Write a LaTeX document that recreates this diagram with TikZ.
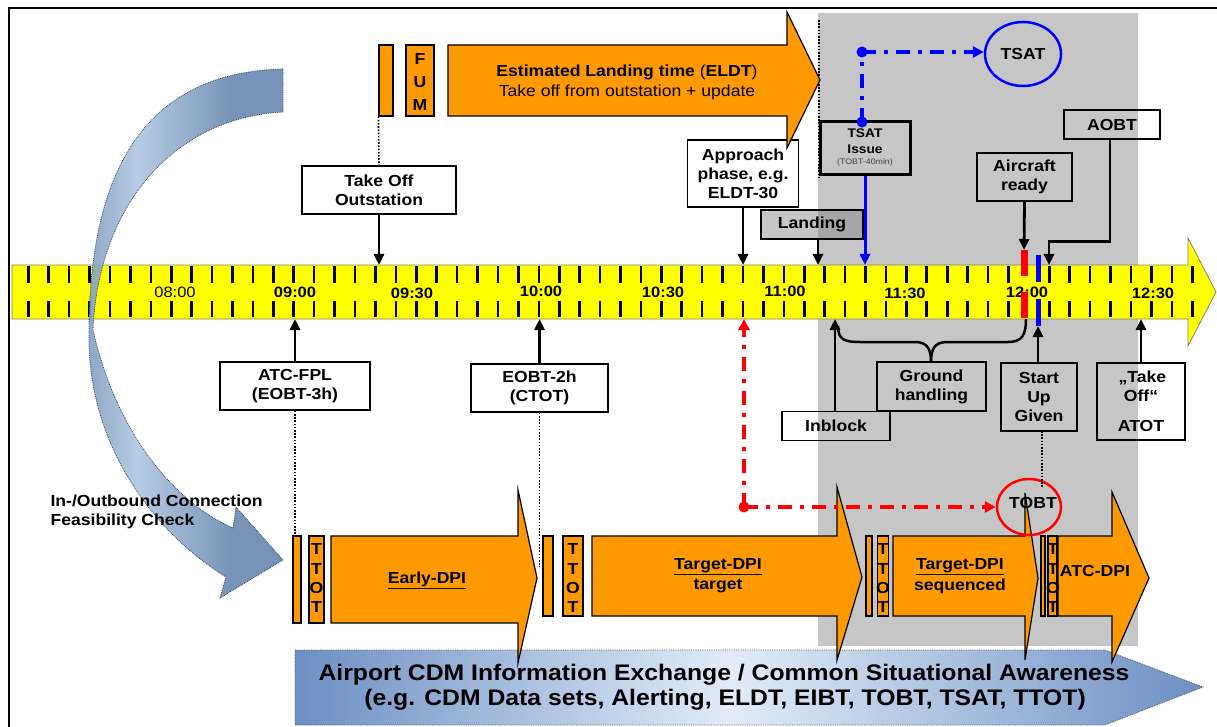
\documentclass[tikz,border=0pt]{standalone}
\usepackage{fontspec}
\setmainfont{Liberation Sans}[FakeStretch=1.1]
\usetikzlibrary{arrows.meta,shapes.geometric}
\definecolor{bggray}{RGB}{198,198,198}
\definecolor{orng}{RGB}{255,153,0}
\definecolor{ylw}{RGB}{255,255,0}
\definecolor{steelL}{RGB}{175,198,225}
\definecolor{steelM}{RGB}{128,155,192}
\definecolor{steelD}{RGB}{104,136,176}
\definecolor{blD}{RGB}{108,143,196}
\definecolor{blL}{RGB}{226,236,247}
\definecolor{bandedge}{RGB}{128,128,128}
\definecolor{lgray}{RGB}{131,131,131}
\pgfdeclarehorizontalshading{cdmshade}{100bp}{color(0bp)=(blD); color(25bp)=(blD); color(49bp)=(blL); color(75bp)=(blD); color(100bp)=(blD)}
\pgfdeclarehorizontalshading{curvshade}{100bp}{color(0bp)=(steelM); color(25bp)=(steelM); color(38bp)=(steelL); color(62bp)=(steelD); color(100bp)=(steelD)}
\begin{document}
\begin{tikzpicture}[x=1pt,y=-1pt,
  every node/.style={font=\fontsize{16}{19}\selectfont\bfseries},
  box/.style={draw=black, line width=1.5pt, inner sep=0pt, align=center},
  conn/.style={line width=2.8pt, -{Triangle[length=11pt,width=10pt]}},
  blk/.style={draw=black, line width=1.2pt, fill=orng},
  tick/.style={line width=2.6pt},
  lbl/.style={font=\fontsize{15}{18}\selectfont\bfseries},
  dd/.style={line width=3.5pt, dash pattern=on 14pt off 8pt on 4pt off 8pt},
  dotl/.style={line width=1.6pt, dash pattern=on 1.6pt off 1.6pt}]
\useasboundingbox (0,0) rectangle (1217,727);
% grey area
\fill[bggray] (818,13) rectangle (1138,646);
% frame
\draw[line width=2pt] (9.2,727) -- (9.2,8.3) -- (1217,8.3);
\coordinate (dtop) at (819,20);
\coordinate (dbot) at (819,180);
\draw[dotl] (dtop) -- (dbot);
% bottom information arrow
\path[shading=cdmshade, draw=gray!70!black, densely dotted, line width=0.8pt]
  (295,650) -- (1105,650) -- (1203,687) -- (1105,725) -- (295,725) -- cycle;
\node[font=\fontsize{22.5}{26}\selectfont\bfseries] (cdm1) at (724,675) {Airport CDM Information Exchange / Common Situational Awareness};
\node[font=\fontsize{22.5}{26}\selectfont\bfseries] (cdm2) at (725,700) {(e.g. CDM Data sets, Alerting, ELDT, EIBT, TOBT, TSAT, TTOT)};
% DPI arrows
\filldraw[blk] (331,536) -- (518,536) -- (518,490) -- (537,578) -- (518,663) -- (518,623) -- (331,623) -- cycle;
\filldraw[blk] (592,536) -- (837,536) -- (837,487) -- (862,577) -- (837,660) -- (837,616) -- (592,616) -- cycle;
\filldraw[blk] (893,536) -- (1025,536) -- (1025,493) -- (1038,578) -- (1025,660) -- (1025,616) -- (893,616) -- cycle;
\filldraw[blk] (1058,536) -- (1112,536) -- (1112,492) -- (1149,578) -- (1112,662) -- (1112,616) -- (1058,616) -- cycle;
\node (early) at (427,580) {\underline{Early-DPI}};
\node (tgt1) at (718,567) {\underline{Target-DPI}};
\node (tgt2) at (718,586) {target};
\node (seq1) at (960,567) {\underline{Target-DPI}};
\node (seq2) at (960,586) {sequenced};
\node (atcdpi) at (1095,571) {ATC-DPI};
% TTOT bars
\node[blk, inner sep=0pt, minimum width=8pt, minimum height=87pt] (bar1) at (297,579.5) {};
\node[blk, inner sep=0pt, minimum width=15pt, minimum height=87pt] (tt1) at (316.5,579.5) {};
\node[blk, inner sep=0pt, minimum width=10pt, minimum height=80pt] (bar2) at (548,576) {};
\node[blk, inner sep=0pt, minimum width=20pt, minimum height=80pt] (tt2) at (573,576) {};
\node[blk, inner sep=0pt, minimum width=6pt, minimum height=80pt] (bar3) at (869,576) {};
\node[blk, inner sep=0pt, minimum width=11pt, minimum height=80pt] (tt3) at (883,576) {};
\node[blk, inner sep=0pt, minimum width=4pt, minimum height=80pt] (bar4) at (1043,576) {};
\node[blk, inner sep=0pt, minimum width=9pt, minimum height=80pt] (tt4) at (1052.5,576) {};
\foreach \xx in {316.5,573,883,1053}{
  \foreach \yy/\ch in {549/T,568.5/T,588/O,607/T}{
    \node[inner sep=0pt] at (\xx,\yy) {\ch};
  }
}
% top elements
\node[box, fill=white, minimum width=111pt, minimum height=67pt] (approach) at (743,173.5) {Approach\\phase, e.g.\\ELDT-30};
\filldraw[blk] (448,45) -- (787,45) -- (787,12) -- (820,80) -- (787,148) -- (787,116) -- (448,116) -- cycle;
\node (eldt1) at (627,72) {Estimated Landing time {\mdseries(}ELDT{\mdseries)}};
\node (eldt2) at (627,92) {\mdseries Take off from outstation + update};
\node[blk, inner sep=0pt, minimum width=14pt, minimum height=71pt] (sbar) at (386,80.5) {};
\node[blk, inner sep=0pt, minimum width=28pt, minimum height=71pt] (fum) at (420,80.5) {};
\node at (420,59) {F};
\node at (420,82) {U};
\node at (420,105) {M};
\node[box, fill=white, minimum width=154pt, minimum height=48pt] (takeoff) at (379,190) {Take Off\\Outstation};
\node[box, fill=lgray, fill opacity=0.47, text opacity=1, minimum width=102pt, minimum height=29pt] (landing) at (812,224.5) {Landing};
\node[box, line width=3pt, fill=bggray, minimum width=90pt, minimum height=53pt] (tsatissue) at (865,148) {};
\node[font=\fontsize{12.5}{15}\selectfont\bfseries] at (865,133) {TSAT};
\node[font=\fontsize{12.5}{15}\selectfont\bfseries] at (865,149) {Issue};
\node[font=\fontsize{8}{9}\selectfont, text=black!75] at (865,162) {(TOBT-40min)};
\node[draw=blue, line width=2.5pt, ellipse, minimum width=76pt, minimum height=64pt, inner sep=0pt] (tsat) at (1023,54) {TSAT};
\node[box, minimum width=95pt, minimum height=48pt] (aircraft) at (1024.5,177) {Aircraft\\ready};
\node[box, minimum width=96pt, minimum height=29pt] (aobt) at (1112,124.5) {AOBT};
% lower boxes
\node[box, fill=white, minimum width=150pt, minimum height=48pt] (atcfpl) at (295,386) {ATC-FPL\\(EOBT-3h)};
\node[box, fill=white, minimum width=137pt, minimum height=48pt] (eobt2h) at (539.5,388) {EOBT-2h\\(CTOT)};
\node[box, minimum width=108pt, minimum height=29pt] (inblock) at (836,426) {Inblock};
\node[box, minimum width=109pt, minimum height=49pt] (ground) at (931.5,386.5) {Ground\\handling};
\node[box, minimum width=76pt, minimum height=68pt] (startup) at (1039,397) {Start\\Up\\Given};
\node[box, minimum width=88pt, minimum height=77pt] (atot) at (1141,401.5) {\,„Take\\Off“\\[11pt]ATOT};
% timeline band
\filldraw[fill=ylw, draw=bandedge, line width=0.8pt] (12,265) -- (1188,265) -- (1188,238) -- (1216,292) -- (1188,346) -- (1188,319) -- (12,319) -- cycle;
\foreach \i in {0,...,57}{
  \pgfmathsetmacro\xx{28.3+\i*20.42}
  \ifnum\i=49 \else
    \draw[tick] (\xx,266) -- (\xx,283) (\xx,301) -- (\xx,317);
  \fi
}
\node[lbl, font=\fontsize{15}{18}\selectfont\mdseries] at (175,292) {08:00};
\node[lbl] at (295,292) {09:00};
\node[lbl] at (412,293) {09:30};
\node[lbl] at (541,291) {10:00};
\node[lbl] at (663,292) {10:30};
\node[lbl] at (785,291) {11:00};
\node[lbl] at (905,293) {11:30};
\node[lbl] at (1027,292) {12:00};
\node[lbl] at (1153,293) {12:30};
% red / blue markers
\fill[red] (1021,250) rectangle (1028,276);
\fill[red] (1021,292) rectangle (1028,318);
\fill[blue] (1035.5,255) rectangle (1041,282);
\fill[blue] (1035.5,299) rectangle (1041,326);
\coordinate (redtop) at (1024,250);
\coordinate (bluebot) at (1038,326);
\coordinate (bandT) at (0,265);
\coordinate (bandB) at (0,319);
% curved arrow
\path[shading=curvshade, fill opacity=0.9, draw=steelD!50!black, densely dotted, line width=0.8pt]
  (283,69) .. controls (160,72) and (90,150) .. (89,330)
  .. controls (86,440) and (150,530) .. (226,577)
  -- (220,598) -- (283,560) -- (236,507) -- (233,528)
  .. controls (180,505) and (118,440) .. (93,330)
  .. controls (98,210) and (170,118) .. (283,112) -- cycle;
\node[anchor=west, align=left] (feas) at (47,512) {In-/Outbound Connection\\Feasibility Check};
% connectors
\draw[conn] (takeoff.south) -- (takeoff.south |- bandT);
\draw[dotl] (sbar.south west) -- (takeoff.north);
\draw[conn] (approach.south) -- (approach.south |- bandT);
\coordinate (landA) at (818,265);
\draw[conn] (landA |- landing.south) -- (landA);
\draw[conn, blue, line width=3pt] (tsatissue.south) -- (tsatissue.south |- bandT);
\draw[conn] (aircraft.south) -- (redtop);
\coordinate (aobtA) at (1049,265);
\draw[conn] ([xshift=-2pt]aobt.south) -- ++(0,102) -| (aobtA);
\draw[conn] (atcfpl.north) -- (atcfpl.north |- bandB);
\draw[dotl] (atcfpl.south) -- (atcfpl.south |- bar1.north);
\draw[conn] (eobt2h.north) -- (eobt2h.north |- bandB);
\coordinate (eobtend) at (539.5,567);
\draw[dotl] (eobt2h.south) -- (eobtend);
\coordinate (inblA) at (835,319);
\draw[conn] (inblA |- inblock.north) -- (inblA);
\draw[conn] (startup.north -| bluebot) -- (bluebot);
\draw[conn] (atot.north) -- (atot.north |- bandB);
% brace
\draw[line width=2.5pt] (838,326) .. controls (838,340) and (845,342) .. (860,342) -- (915,342)
  .. controls (928,342) and (931,350) .. (931,362);
\draw[line width=2.5pt] (931,362) .. controls (931,350) and (934,342) .. (947,342) -- (1008,342)
  .. controls (1022,342) and (1026,335) .. (1026,319);
% TOBT
\node[draw=red, line width=2.5pt, ellipse, minimum width=64pt, minimum height=56pt, inner sep=0pt] (tobt) at (1029,507) {};
\node at (1033,503) {TOBT};
\coordinate (startdot) at (1042,431);
\coordinate (tobtdot) at (1042,487);
\draw[dotl] (startdot) -- (tobtdot);
% red dash-dot
\coordinate (reddot) at (744,507);
\coordinate (redup) at (744,319);
\draw[dd, red, -{Triangle[length=11pt,width=11pt]}] (reddot) -- (redup);
\draw[dd, red, -{Triangle[length=11pt,width=11pt]}] (reddot) -- (tobt.west);
\fill[red] (reddot) circle (5.5);
% blue dash-dot
\coordinate (bdot1) at (862,52);
\coordinate (bdot2) at (862,122);
\draw[dd, blue] (bdot2) -- (bdot1);
\draw[dd, blue, -{Triangle[length=11pt,width=11pt]}] (bdot1) -- (bdot1 -| tsat.west);
\fill[blue] (bdot1) circle (5.5);
\fill[blue] (bdot2) circle (5.5);
\end{tikzpicture}
\end{document}
